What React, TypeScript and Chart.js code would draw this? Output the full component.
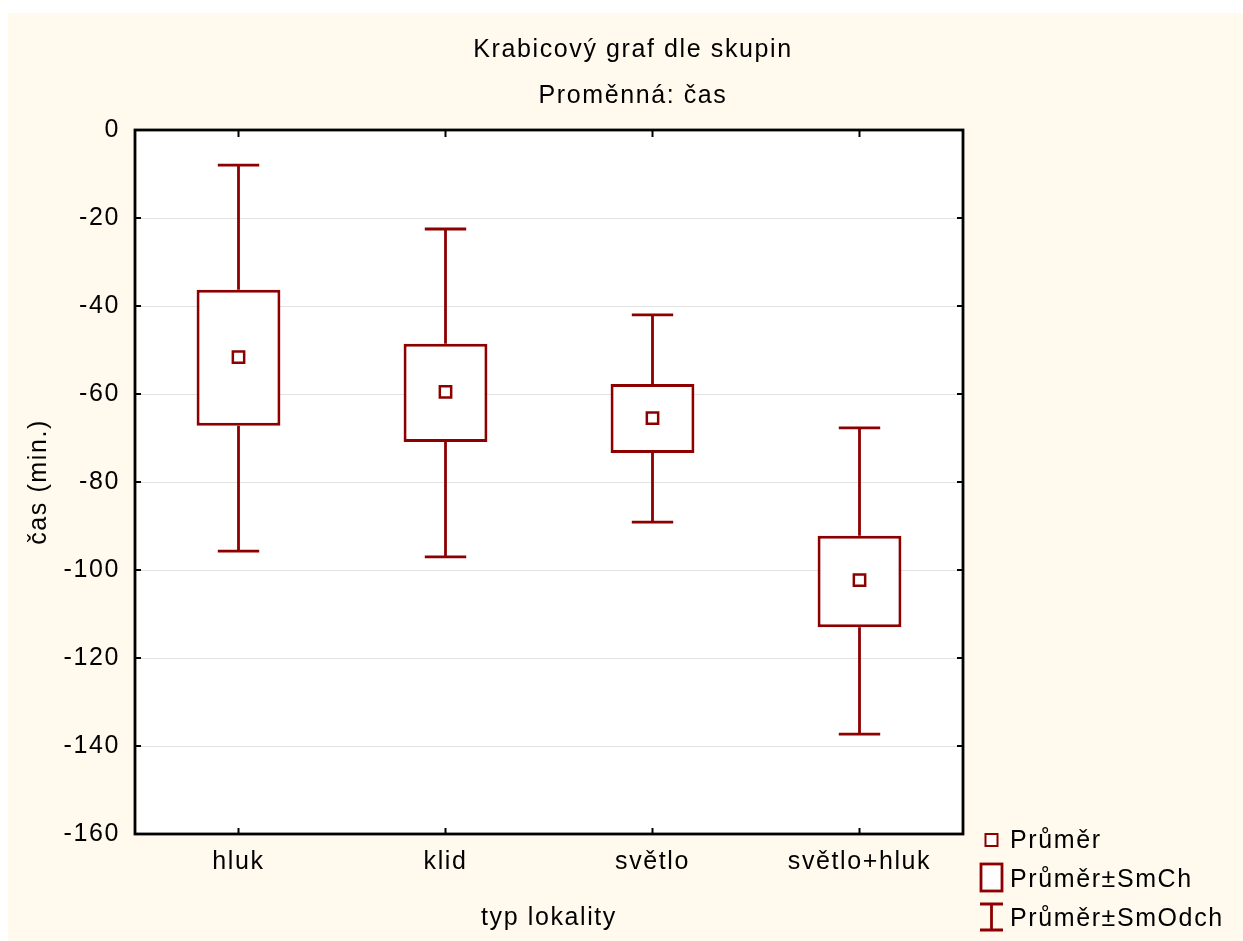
import React, { useEffect, useRef } from 'react';
import { Chart, registerables } from 'chart.js';

Chart.register(...registerables);

const categories = ['hluk', 'klid', 'světlo', 'světlo+hluk'];
const means = [-51.6, -59.5, -65.5, -102.3];
const seTop = [-36.3, -48.6, -57.7, -92.2];
const seBottom = [-67.2, -70.9, -73.4, -113.0];
const sdTop = [-8.0, -22.5, -42.0, -67.7];
const sdBottom = [-95.7, -97.0, -89.1, -137.3];
const yTicks = [0, -20, -40, -60, -80, -100, -120, -140, -160];

const chartTitle = 'Krabicový graf dle skupin';
const chartSubtitle = 'Proměnná: čas';
const xTitle = 'typ lokality';
const yTitle = 'čas (min.)';
const legendLabels = ['Průměr', 'Průměr±SmCh', 'Průměr±SmOdch'];

const RED = '#8C0000';
const CREAM = '#FFF9EE';
const FONT = 'Arial, "Liberation Sans", sans-serif';
const FSIZE = 25;
const SPACING = '1.6px';

const W = 1235;
const H = 928;

const setSpacing = (chart: any) => {
  try {
    (chart.ctx as any).letterSpacing = SPACING;
  } catch (e) {}
};

const customPlugin = {
  id: 'custom',
  beforeLayout(chart: any) {
    setSpacing(chart);
  },
  beforeDraw(chart: any) {
    setSpacing(chart);
    const { ctx, chartArea } = chart;
    ctx.save();
    ctx.fillStyle = '#ffffff';
    ctx.fillRect(chartArea.left, chartArea.top, chartArea.right - chartArea.left, chartArea.bottom - chartArea.top);
    ctx.restore();
  },
  afterDatasetsDraw(chart: any) {
    const { ctx } = chart;
    const x = chart.scales.x;
    const y = chart.scales.y;
    const step = x.getPixelForValue(1) - x.getPixelForValue(0);
    const capHalf = step * 0.1;
    ctx.save();
    ctx.strokeStyle = RED;
    ctx.lineWidth = 2.8;
    categories.forEach((_, i) => {
      const cx = x.getPixelForValue(i);
      const yt = y.getPixelForValue(sdTop[i]);
      const yb = y.getPixelForValue(sdBottom[i]);
      const bt = y.getPixelForValue(seTop[i]);
      const bb = y.getPixelForValue(seBottom[i]);
      ctx.beginPath();
      ctx.moveTo(cx, bt);
      ctx.lineTo(cx, yt);
      ctx.moveTo(cx - capHalf, yt);
      ctx.lineTo(cx + capHalf, yt);
      ctx.moveTo(cx, bb);
      ctx.lineTo(cx, yb);
      ctx.moveTo(cx - capHalf, yb);
      ctx.lineTo(cx + capHalf, yb);
      ctx.stroke();
    });
    ctx.restore();
  },
  afterDraw(chart: any) {
    const { ctx, chartArea } = chart;
    const { left, right, top, bottom } = chartArea;
    const x = chart.scales.x;
    const y = chart.scales.y;
    ctx.save();
    setSpacing(chart);
    ctx.strokeStyle = '#000';
    ctx.lineWidth = 2.8;
    ctx.strokeRect(left, top, right - left, bottom - top);
    ctx.lineWidth = 2;
    ctx.beginPath();
    yTicks.forEach((v) => {
      const py = y.getPixelForValue(v);
      ctx.moveTo(left, py);
      ctx.lineTo(left + 6, py);
      ctx.moveTo(right, py);
      ctx.lineTo(right - 6, py);
    });
    categories.forEach((_, i) => {
      const px = x.getPixelForValue(i);
      ctx.moveTo(px, top);
      ctx.lineTo(px, top + 7);
      ctx.moveTo(px, bottom);
      ctx.lineTo(px, bottom - 6);
    });
    ctx.stroke();

    ctx.fillStyle = '#000';
    ctx.font = `${FSIZE}px ${FONT}`;
    ctx.textAlign = 'center';
    ctx.textBaseline = 'middle';
    ctx.fillText(chartTitle, 625, 37);
    ctx.fillText(chartSubtitle, 625, 83);

    ctx.strokeStyle = RED;
    ctx.fillStyle = '#fff';
    ctx.lineWidth = 2;
    ctx.fillRect(977.5, 821, 12, 12);
    ctx.strokeRect(977.5, 821, 12, 12);
    ctx.lineWidth = 2.8;
    ctx.fillRect(973, 851, 21, 27);
    ctx.strokeRect(973, 851, 21, 27);
    ctx.beginPath();
    ctx.moveTo(983.5, 891);
    ctx.lineTo(983.5, 917);
    ctx.moveTo(972, 891);
    ctx.lineTo(995, 891);
    ctx.moveTo(972, 917);
    ctx.lineTo(995, 917);
    ctx.stroke();

    ctx.fillStyle = '#000';
    ctx.textAlign = 'left';
    ctx.fillText(legendLabels[0], 1002, 828);
    ctx.fillText(legendLabels[1], 1002, 867);
    ctx.fillText(legendLabels[2], 1002, 906);
    ctx.restore();
  },
};

export default function App() {
  const ref = useRef<HTMLCanvasElement | null>(null);
  useEffect(() => {
    if (!ref.current) return;
    const chart = new Chart(ref.current, {
      type: 'bar',
      data: {
        labels: categories,
        datasets: [
          {
            type: 'line',
            label: 'Průměr',
            data: means,
            showLine: false,
            pointStyle: 'rect',
            pointRadius: 8,
            pointBorderWidth: 2.5,
            pointBackgroundColor: '#fff',
            pointBorderColor: RED,
            order: 0,
          } as any,
          {
            type: 'bar',
            label: 'Průměr±SmCh',
            data: categories.map((_, i) => [seBottom[i], seTop[i]]),
            backgroundColor: '#fff',
            borderColor: RED,
            borderWidth: 3,
            borderSkipped: false,
            barPercentage: 0.405,
            categoryPercentage: 1,
            order: 1,
          } as any,
        ],
      },
      options: {
        responsive: false,
        animation: false,
        devicePixelRatio: 1,
        layout: { padding: { top: 117, right: 280, bottom: 0, left: 0 } },
        plugins: {
          legend: { display: false },
          title: { display: false },
          tooltip: { enabled: false },
        },
        scales: {
          x: {
            type: 'category',
            grid: { display: false, drawTicks: false },
            border: { display: false },
            ticks: {
              color: '#000',
              font: { family: FONT, size: FSIZE },
              padding: 13,
              maxRotation: 0,
              autoSkip: false,
            },
            title: {
              display: true,
              text: xTitle,
              color: '#000',
              font: { family: FONT, size: FSIZE },
              padding: { top: 0, bottom: 8 },
            },
            afterFit: (scale: any) => {
              scale.height = 107;
            },
          },
          y: {
            type: 'linear',
            min: -160,
            max: 0,
            grid: { color: '#e2e2e2', lineWidth: 1, drawTicks: false },
            border: { display: false },
            ticks: {
              stepSize: 20,
              color: '#000',
              font: { family: FONT, size: FSIZE },
              padding: 15,
              callback: (v: any) => String(v),
            },
            title: {
              display: true,
              text: yTitle,
              color: '#000',
              font: { family: FONT, size: FSIZE },
              padding: { top: 16, bottom: 0 },
            },
            afterFit: (scale: any) => {
              scale.width = 127;
            },
          },
        },
      } as any,
      plugins: [customPlugin],
    });
    return () => chart.destroy();
  }, []);

  return (
    <div
      style={{
        position: 'absolute',
        left: 8,
        top: 13,
        width: W,
        height: H,
        background: CREAM,
      }}
    >
      <canvas ref={ref} width={W} height={H} style={{ display: 'block' }} />
    </div>
  );
}
